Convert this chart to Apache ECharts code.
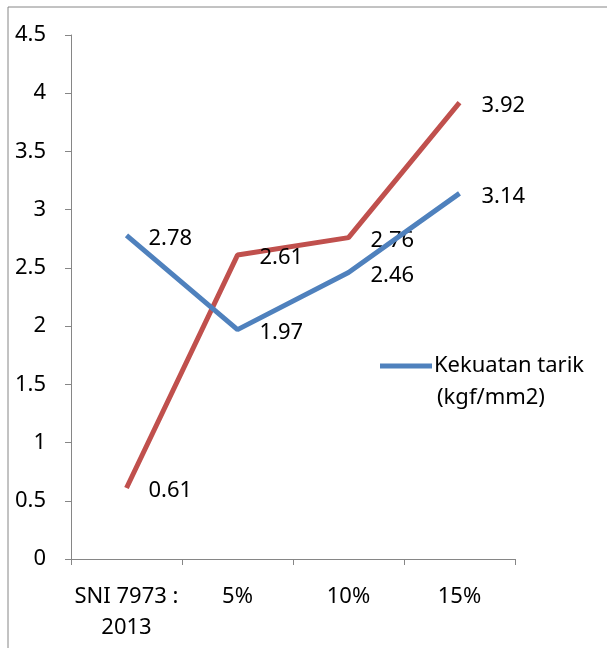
<!DOCTYPE html>
<html><head><meta charset="utf-8">
<script src="https://cdn.jsdelivr.net/npm/echarts@6/dist/echarts.min.js"></script>
<style>html,body{margin:0;padding:0;background:#fff}#c{width:607px;height:648px}</style>
</head><body><div id="c"></div>
<script>
var categories = ['SNI 7973 :\n2013', '5%', '10%', '15%'];
var blueValues = [2.78, 1.97, 2.46, 3.14];
var redValues = [0.61, 2.61, 2.76, 3.92];
var blueName = 'Kekuatan tarik';
var blueUnit = '(kgf/mm2)';
var redName = 'Series 2';
var FONT = 'Noto Sans';
var FS = 22;
var chart = echarts.init(document.getElementById('c'));
var lbl = {show: true, position: 'right', distance: 22, offset: [0, 3], color: '#000', fontSize: FS, fontFamily: FONT};
chart.setOption({
  animation: false,
  textStyle: {fontFamily: FONT},
  graphic: [
    {type: 'rect', shape: {x: 8, y: 7, width: 700, height: 700}, style: {fill: 'none', stroke: '#868686', lineWidth: 1}, silent: true, z: -1},
    {type: 'text', left: 437, top: 387, style: {text: blueUnit, fontSize: FS, fontFamily: FONT, fill: '#000'}}
  ],
  grid: {left: 71, right: 92, top: 35, bottom: 89},
  legend: {
    data: [blueName], left: 380, top: 355, padding: 0,
    itemWidth: 52, itemHeight: 5, itemGap: 4,
    icon: 'rect',
    textStyle: {fontSize: FS, fontFamily: FONT, color: '#000', padding: [0, 0, 0, -3]}
  },
  xAxis: {
    type: 'category', data: categories, boundaryGap: true,
    axisLine: {lineStyle: {color: '#868686', width: 1}},
    axisTick: {show: true, length: 6, alignWithLabel: false, lineStyle: {color: '#868686'}},
    axisLabel: {color: '#000', fontSize: FS, fontFamily: FONT, margin: 22, lineHeight: 31, interval: 0},
    splitLine: {show: false}
  },
  yAxis: {
    type: 'value', min: 0, max: 4.5, interval: 0.5,
    axisLine: {show: true, lineStyle: {color: '#868686', width: 1}},
    axisTick: {show: true, length: 6, lineStyle: {color: '#868686'}},
    axisLabel: {color: '#000', fontSize: FS, fontFamily: FONT, margin: 25},
    splitLine: {show: false}
  },
  series: [
    {name: blueName, type: 'line', data: blueValues, symbol: 'circle', symbolSize: 0, showSymbol: true,
     lineStyle: {color: '#4F81BD', width: 5}, itemStyle: {color: '#4F81BD'}, label: lbl, z: 3},
    {name: redName, type: 'line', data: redValues, symbol: 'circle', symbolSize: 0, showSymbol: true,
     lineStyle: {color: '#C0504D', width: 5}, itemStyle: {color: '#C0504D'}, label: lbl, z: 2}
  ]
});
</script></body></html>
